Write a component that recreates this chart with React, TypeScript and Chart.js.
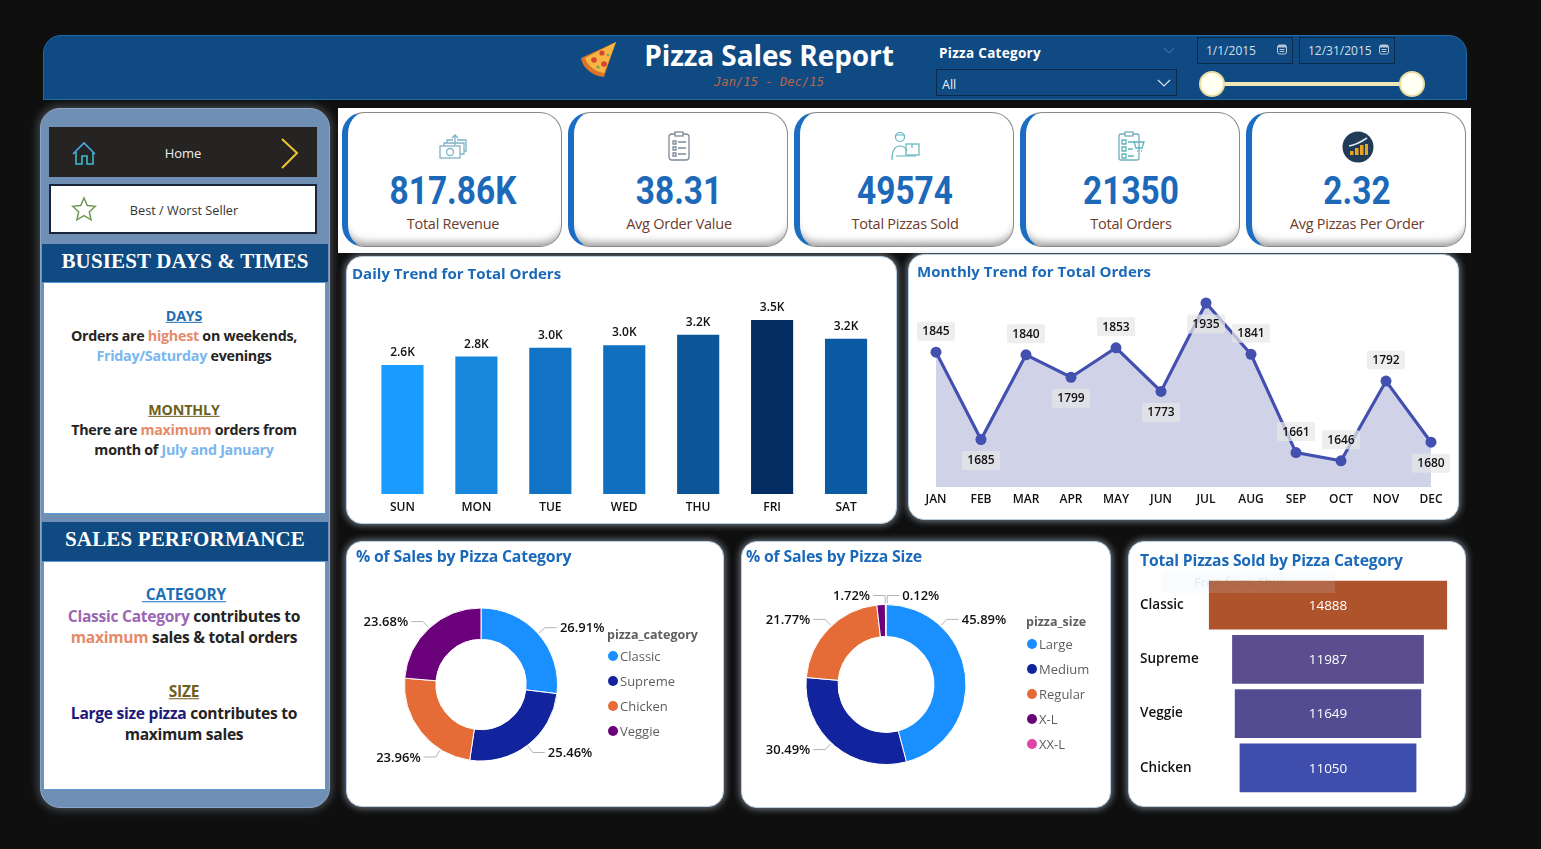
import React, { useEffect, useRef } from "react";
import { Chart, registerables } from "chart.js";

Chart.register(...registerables);

// ---------- data ----------
const days = ["SUN", "MON", "TUE", "WED", "THU", "FRI", "SAT"];
const dailyOrders = [2624, 2794, 2973, 3024, 3239, 3538, 3158];
const dailyColors = ["#1a9bff", "#1787dd", "#1273c4", "#1070bf", "#0c5596", "#042e63", "#0a5ba3"];

const months = ["JAN", "FEB", "MAR", "APR", "MAY", "JUN", "JUL", "AUG", "SEP", "OCT", "NOV", "DEC"];
const monthlyOrders = [1845, 1685, 1840, 1799, 1853, 1773, 1935, 1841, 1661, 1646, 1792, 1680];
const monthlyLabelBelow = [false, true, false, true, false, true, true, false, false, false, false, true];

const categoryNames = ["Classic", "Supreme", "Chicken", "Veggie"];
const categoryShare = [26.91, 25.46, 23.96, 23.68];
const categoryColors = ["#1a8fff", "#12239e", "#e66c37", "#6b007b"];
const categoryLeaderAngles = [48.4, 142.7, 212, 317.4];

const sizeNames = ["Large", "Medium", "Regular", "X-L", "XX-L"];
const sizeShare = [45.89, 30.49, 21.77, 1.72, 0.12];
const sizeColors = ["#1a8fff", "#12239e", "#e66c37", "#6b007b", "#e044a7"];
const sizeLeaderAngles = [43, 223, 317, 359.4, 0.8];

const funnelNames = ["Classic", "Supreme", "Veggie", "Chicken"];
const funnelValues = [14888, 11987, 11649, 11050];
const funnelColors = ["#ae532c", "#5a4e8f", "#534c93", "#3f4dac"];

const kpiValues = ["817.86K", "38.31", "49574", "21350", "2.32"];
const kpiLabels = ["Total Revenue", "Avg Order Value", "Total Pizzas Sold", "Total Orders", "Avg Pizzas Per Order"];

// ---------- style constants ----------
const UI = '"Open Sans","Noto Sans",sans-serif';
const SERIF = '"Liberation Serif",serif';
const NAVY = "#0f4a82";
const BLUE = "#1b69b8";

// ---------- helpers ----------
function T(p: any) {
  const { x, y, c, children, style } = p;
  return (
    <div
      style={{
        position: "absolute",
        left: x,
        top: y,
        transform: c ? "translate(-50%,-50%)" : "translateY(-50%)",
        whiteSpace: "pre",
        fontFamily: UI,
        lineHeight: 1,
        ...style,
      }}
    >
      {children}
    </div>
  );
}

function Box(p: any) {
  const { x, y, w, h, style, children } = p;
  return <div style={{ position: "absolute", left: x, top: y, width: w, height: h, boxSizing: "border-box", ...style }}>{children}</div>;
}

function useChart(make: (c: HTMLCanvasElement) => Chart) {
  const ref = useRef<HTMLCanvasElement>(null);
  useEffect(() => {
    const chart = make(ref.current as HTMLCanvasElement);
    return () => chart.destroy();
  }, []);
  return ref;
}

function Card(p: any) {
  const { x, y, w, h, title, tx, ty, fs, ls, children } = p;
  return (
    <>
      <Box
        x={x}
        y={y}
        w={w}
        h={h}
        style={{
          background: "#fff",
          borderRadius: 16,
          border: "1px solid #b6cde2",
          boxShadow: "0 0 7px 1px rgba(205,222,240,.55)",
        }}
      />
      {children}
      <T x={tx} y={ty} style={{ color: BLUE, fontWeight: 700, fontSize: fs, letterSpacing: ls }}>
        {title}
      </T>
    </>
  );
}

const fmtK = (v: number) => (v / 1000).toFixed(1) + "K";

const barValuePlugin = {
  id: "barValues",
  afterDatasetsDraw(chart: any) {
    const { ctx } = chart;
    const meta = chart.getDatasetMeta(0);
    ctx.save();
    ctx.font = `600 12px ${UI}`;
    ctx.fillStyle = "#111";
    ctx.textAlign = "center";
    ctx.textBaseline = "middle";
    meta.data.forEach((el: any, i: number) => ctx.fillText(fmtK(dailyOrders[i]), el.x, el.y - 12.5));
    ctx.restore();
  },
};

const lineLabelPlugin = {
  id: "lineLabels",
  afterDatasetsDraw(chart: any) {
    const { ctx } = chart;
    const meta = chart.getDatasetMeta(0);
    ctx.save();
    ctx.font = `600 12px ${UI}`;
    ctx.textAlign = "center";
    ctx.textBaseline = "middle";
    meta.data.forEach((el: any, i: number) => {
      const cy = el.y + (monthlyLabelBelow[i] ? 21.5 : -20.5);
      ctx.fillStyle = "rgba(232,232,232,.72)";
      ctx.beginPath();
      ctx.roundRect(el.x - 19, cy - 10, 38, 19, 2);
      ctx.fill();
      ctx.fillStyle = "#111";
      ctx.fillText(String(monthlyOrders[i]), el.x, cy);
    });
    ctx.restore();
  },
};

function leaderPlugin(values: number[], angles: number[]) {
  return {
    id: "leaderLabels",
    afterDatasetsDraw(chart: any) {
      const { ctx } = chart;
      const arc = chart.getDatasetMeta(0).data[0];
      const cx = arc.x;
      const cy = arc.y;
      const r = arc.outerRadius;
      ctx.save();
      ctx.font = `600 13px ${UI}`;
      ctx.textBaseline = "middle";
      values.forEach((v, i) => {
        const a = (angles[i] * Math.PI) / 180;
        const sx = Math.sin(a);
        const cs = Math.cos(a);
        const right = sx >= 0;
        const x0 = cx + (r + 1) * sx;
        const y0 = cy - (r + 1) * cs;
        const x1 = cx + (r + 9) * sx;
        const y1 = cy - (r + 9) * cs;
        const x2 = x1 + (right ? 12 : -12);
        ctx.strokeStyle = "#b5b5b5";
        ctx.lineWidth = 1;
        ctx.beginPath();
        ctx.moveTo(x0, y0);
        ctx.lineTo(x1, y1);
        ctx.lineTo(x2, y1);
        ctx.stroke();
        ctx.fillStyle = "#111";
        ctx.textAlign = right ? "left" : "right";
        ctx.fillText(v.toFixed(2) + "%", x2 + (right ? 3 : -3), y1 + 1);
      });
      ctx.restore();
    },
  };
}

function DailyChart() {
  const ref = useChart(
    (c) =>
      new Chart(c, {
        type: "bar",
        data: {
          labels: days,
          datasets: [{ data: dailyOrders, backgroundColor: dailyColors, barPercentage: 0.57, categoryPercentage: 1 }],
        },
        options: {
          animation: false,
          responsive: false,
          devicePixelRatio: 1,
          layout: { padding: { left: 19.5, right: 14, top: 41.3, bottom: 6 } },
          plugins: { legend: { display: false }, tooltip: { enabled: false } },
          scales: {
            x: {
              grid: { display: false, drawTicks: false },
              border: { display: false },
              afterFit: (s: any) => (s.height = 24),
              ticks: { color: "#111", font: { family: UI, size: 12, weight: "600" }, padding: 6, maxRotation: 0 },
            },
            y: { display: false, min: 0, max: 4000 },
          },
        },
        plugins: [barValuePlugin],
      } as any)
  );
  return <canvas ref={ref} width={551} height={268} style={{ position: "absolute", left: 346, top: 256 }} />;
}

function MonthlyChart() {
  const ref = useChart(
    (c) =>
      new Chart(c, {
        type: "line",
        data: {
          labels: months,
          datasets: [
            {
              data: monthlyOrders,
              borderColor: "#4350af",
              borderWidth: 3.2,
              tension: 0,
              pointRadius: 5.5,
              pointBackgroundColor: "#4350af",
              pointBorderWidth: 0,
              fill: "start",
              backgroundColor: "rgba(67,80,165,.25)",
            },
          ],
        },
        options: {
          animation: false,
          responsive: false,
          devicePixelRatio: 1,
          layout: { padding: { left: 4.4, right: 4.4, top: 13.5, bottom: 9 } },
          plugins: { legend: { display: false }, tooltip: { enabled: false } },
          scales: {
            x: {
              offset: true,
              grid: { display: false, drawTicks: false },
              border: { display: false },
              afterFit: (s: any) => (s.height = 24),
              ticks: { color: "#111", font: { family: UI, size: 12, weight: "600" }, padding: 5, maxRotation: 0, autoSkip: false },
            },
            y: { display: false, min: 1598, max: 2000 },
          },
        },
        plugins: [lineLabelPlugin],
      } as any)
  );
  return <canvas ref={ref} width={551} height={266} style={{ position: "absolute", left: 908, top: 254 }} />;
}

function Donut(p: any) {
  const { names, values, colors, angles, x, y, w, h, pad, cutout } = p;
  const ref = useChart(
    (c) =>
      new Chart(c, {
        type: "doughnut",
        data: { labels: names, datasets: [{ data: values, backgroundColor: colors, borderWidth: 1, borderColor: "#fff" }] },
        options: {
          animation: false,
          responsive: false,
          devicePixelRatio: 1,
          cutout,
          layout: { padding: pad },
          plugins: { legend: { display: false }, tooltip: { enabled: false } },
        },
        plugins: [leaderPlugin(values, angles)],
      } as any)
  );
  return <canvas ref={ref} width={w} height={h} style={{ position: "absolute", left: x, top: y }} />;
}

function FunnelChart() {
  const half = (v: number) => [-v / 2, v / 2];
  const ref = useChart(
    (c) =>
      new Chart(c, {
        type: "bar",
        data: {
          labels: funnelNames,
          datasets: [{ data: funnelValues.map(half), backgroundColor: funnelColors, barPercentage: 0.9, categoryPercentage: 1 }],
        },
        options: {
          indexAxis: "y",
          animation: false,
          responsive: false,
          devicePixelRatio: 1,
          layout: { padding: { left: 12, right: 18, top: 37, bottom: 12 } },
          plugins: { legend: { display: false }, tooltip: { enabled: false } },
          scales: {
            x: { display: false, min: -7500, max: 7500 },
            y: {
              grid: { display: false, drawTicks: false },
              border: { display: false },
              afterFit: (s: any) => (s.width = 68),
              ticks: { color: "#111", crossAlign: "far", font: { family: UI, size: 13.5, weight: "600" } },
            },
          },
        },
        plugins: [
          {
            id: "funnelValues",
            afterDatasetsDraw(chart: any) {
              const { ctx } = chart;
              ctx.save();
              ctx.font = `500 13.5px ${UI}`;
              ctx.fillStyle = "#fff";
              ctx.textAlign = "center";
              ctx.textBaseline = "middle";
              chart.getDatasetMeta(0).data.forEach((el: any, i: number) => {
                ctx.fillText(String(funnelValues[i]), chart.scales.x.getPixelForValue(0), el.y + 1);
              });
              ctx.restore();
            },
          },
        ],
      } as any)
  );
  return <canvas ref={ref} width={338} height={266} style={{ position: "absolute", left: 1128, top: 541 }} />;
}

function Legend(p: any) {
  const { title, names, colors, x, ty, y0 } = p;
  return (
    <>
      <T x={x} y={ty} style={{ color: "#605e5c", fontWeight: 700, fontSize: 12.5 }}>
        {title}
      </T>
      {names.map((n: string, i: number) => (
        <React.Fragment key={n}>
          <div
            style={{
              position: "absolute",
              left: x + 1,
              top: y0 + i * 25 - 5,
              width: 10,
              height: 10,
              borderRadius: 5,
              background: colors[i],
            }}
          />
          <T x={x + 13} y={y0 + i * 25} style={{ color: "#605e5c", fontSize: 13 }}>
            {n}
          </T>
        </React.Fragment>
      ))}
    </>
  );
}

function Calendar({ x }: { x: number }) {
  return (
    <svg style={{ position: "absolute", left: x, top: 44 }} width="10" height="11" viewBox="0 0 10 11">
      <rect x="0.5" y="1" width="9" height="9" rx="2" fill="none" stroke="#b8c8d8" />
      <rect x="1" y="1" width="8" height="2.5" fill="#b8c8d8" />
      <path d="M2.5 5.5h5M2.5 7.5h5" stroke="#b8c8d8" strokeWidth="1" />
    </svg>
  );
}

function KpiIcon({ i, x }: { i: number; x: number }) {
  const common: any = { position: "absolute", left: x - 15, top: 131 };
  if (i === 0)
    return (
      <svg style={common} width="30" height="30" viewBox="0 0 30 30" fill="none" stroke="#7fb2c6" strokeWidth="1.3">
        <rect x="2" y="15" width="20" height="12" />
        <circle cx="12" cy="21" r="3.5" />
        <path d="M6 15v-3h20v11h-4M9 12V9h6M19 9h9v11h-2" />
        <path d="M17 14V5M14 7l3-3 3 3" />
      </svg>
    );
  if (i === 1)
    return (
      <svg style={common} width="30" height="30" viewBox="0 0 30 30" fill="none" stroke="#7d8b99" strokeWidth="1.3">
        <rect x="5" y="3" width="20" height="26" rx="3" />
        <rect x="11" y="1" width="8" height="4" fill="#fff" />
        <path d="M9 10h3v3H9zM9 16h3v3H9zM9 22h3v3H9zM14 11h8M14 17h8M14 23h8" />
      </svg>
    );
  if (i === 2)
    return (
      <svg style={{ ...common, left: x - 16, top: 130 }} width="32" height="32" viewBox="0 0 32 32" fill="none" stroke="#5fb4bd" strokeWidth="1.2">
        <circle cx="11" cy="7" r="4.5" />
        <path d="M6 5h10M3 30c0-10 3-14 8-14s6 3 7 5" />
        <rect x="17" y="14" width="13" height="11" />
        <path d="M23 14v4M7 26h20" />
      </svg>
    );
  if (i === 3)
    return (
      <svg style={common} width="30" height="30" viewBox="0 0 30 30" fill="none" stroke="#72aebb" strokeWidth="1.3">
        <rect x="3" y="3" width="20" height="26" rx="2" />
        <rect x="9" y="1" width="8" height="4" fill="#fff" />
        <path d="M6 9h4v4H6zM6 16h4v4H6zM6 23h4v4H6zM12 11h7M12 18h5M12 25h6" stroke="#5fb4bd" />
        <path d="M18 11h10l-2 6h-6zM21 20h1M25 20h1" stroke="#5fb4bd" />
      </svg>
    );
  return (
    <svg style={common} width="32" height="32" viewBox="0 0 32 32">
      <circle cx="16" cy="16" r="15.5" fill="#1f3b57" />
      <path d="M7 15c6-1 12-4 18-8" stroke="#dfe6ec" strokeWidth="1.6" fill="none" />
      <rect x="8" y="20" width="3.5" height="4" fill="#e9a31f" />
      <rect x="13" y="17" width="3.5" height="7" fill="#e9a31f" />
      <rect x="18" y="14" width="3.5" height="10" fill="#e9a31f" />
      <rect x="23" y="13" width="3" height="11" fill="#e9a31f" />
    </svg>
  );
}

function Sidebar() {
  const body = { color: "#252423", fontWeight: 700, fontSize: 14.3, letterSpacing: -0.28 };
  const body2 = { ...body, fontSize: 15.6, letterSpacing: -0.28 };
  const head = { fontWeight: 700, fontSize: 14.3, textDecoration: "underline", letterSpacing: -0.2 };
  const head2 = { ...head, fontSize: 15.5 };
  const heading = { color: "#fff", fontFamily: SERIF, fontWeight: 700, fontSize: 21, letterSpacing: 0.15 };
  const orange = "#e58a6a";
  const sky = "#7ab6ef";
  return (
    <>
      <Box
        x={40}
        y={108}
        w={290}
        h={700}
        style={{ background: "#6f8fb5", borderRadius: 20, border: "1px solid #8ba6c6", boxShadow: "0 0 9px 2px rgba(190,205,225,.32)" }}
      />
      <Box x={49} y={127} w={268} h={50} style={{ background: "#252423" }} />
      <svg style={{ position: "absolute", left: 71, top: 141 }} width="26" height="26" viewBox="0 0 26 26" fill="none" strokeWidth="1.6" stroke="#3fb9c9">
        <path d="M2 13L13 2l11 11" stroke="#4aa9e6" />
        <path d="M5 11v12h6v-8h5v8h6V11" />
      </svg>
      <T c x={183} y={153} style={{ color: "#eeeeee", fontSize: 13 }}>
        Home
      </T>
      <svg style={{ position: "absolute", left: 278, top: 136 }} width="24" height="34" viewBox="0 0 24 34" fill="none">
        <path d="M4 3l15 14L4 32" stroke="#f2c52e" strokeWidth="2" />
      </svg>
      <Box x={49} y={184} w={268} h={50} style={{ background: "#fff", border: "2px solid #1a2438" }} />
      <svg style={{ position: "absolute", left: 71, top: 196 }} width="26" height="26" viewBox="0 0 26 26" fill="none">
        <path d="M13 2l3.3 7.6 8 .7-6 5.4 1.8 8.1L13 19.6 5.9 23.8l1.8-8.1-6-5.4 8-.7z" stroke="#6f9a55" strokeWidth="1.5" />
      </svg>
      <T c x={184} y={210} style={{ color: "#333", fontSize: 12.7 }}>
        Best / Worst Seller
      </T>

      <Box x={42} y={244} w={286} h={38} style={{ background: NAVY }} />
      <T c x={185} y={261} style={heading}>
        BUSIEST DAYS &amp; TIMES
      </T>
      <Box x={43} y={282} w={283} h={232} style={{ background: "#fff", border: "1.5px solid #5b9bd5" }} />
      <T c x={184} y={316} style={{ ...head, color: "#1f6fb5" }}>DAYS</T>
      <T c x={184} y={336} style={body}>
        Orders are <span style={{ color: orange }}>highest</span> on weekends,
      </T>
      <T c x={184} y={356} style={body}>
        <span style={{ color: sky }}>Friday/Saturday</span> evenings
      </T>
      <T c x={184} y={410} style={{ ...head, color: "#6e5f1a" }}>MONTHLY</T>
      <T c x={184} y={430} style={body}>
        There are <span style={{ color: orange }}>maximum</span> orders from
      </T>
      <T c x={184} y={450} style={body}>
        month of <span style={{ color: sky }}>July and January</span>
      </T>

      <Box x={42} y={522} w={286} h={39} style={{ background: NAVY }} />
      <T c x={185} y={539} style={heading}>
        SALES PERFORMANCE
      </T>
      <Box x={43} y={561} w={283} h={229} style={{ background: "#fff", border: "1.5px solid #5b9bd5" }} />
      <T c x={184} y={595} style={{ ...head2, color: "#1f6fb5" }}>{" CATEGORY"}</T>
      <T c x={184} y={617} style={body2}>
        <span style={{ color: "#9b67b5" }}>Classic Category</span> contributes to
      </T>
      <T c x={184} y={638} style={body2}>
        <span style={{ color: orange }}>maximum</span> sales &amp; total orders
      </T>
      <T c x={184} y={692} style={{ ...head2, color: "#6e5f1a" }}>SIZE</T>
      <T c x={184} y={714} style={body2}>
        <span style={{ color: "#1d1a7a" }}>Large size pizza</span> contributes to
      </T>
      <T c x={184} y={735} style={body2}>maximum sales</T>
    </>
  );
}

function Header() {
  return (
    <>
      <Box x={43} y={35} w={1424} h={65} style={{ background: NAVY, borderRadius: "18px 18px 0 0", border: "1px solid #1f6aa8" }} />
      <svg style={{ position: "absolute", left: 580, top: 41 }} width="37" height="37" viewBox="0 0 37 37">
        <path d="M36 1L1 17c1 9 11 18 23 19z" fill="#d9762a" />
        <path d="M36 1L5 17c2 7 10 14 19 15z" fill="#f6b544" />
        <circle cx="22" cy="12" r="2.6" fill="#d8442f" />
        <circle cx="14" cy="19" r="2.8" fill="#d8442f" />
        <circle cx="24" cy="23" r="2.8" fill="#d8442f" />
        <circle cx="18" cy="26" r="1.5" fill="#6aa84f" />
        <circle cx="28" cy="14" r="1.3" fill="#6aa84f" />
      </svg>
      <T c x={769} y={55} style={{ color: "#fff", fontWeight: 700, fontSize: 28, letterSpacing: -0.1 }}>
        Pizza Sales Report
      </T>
      <T c x={769} y={82} style={{ color: "#b8674c", fontFamily: '"DejaVu Sans Mono",monospace', fontStyle: "italic", fontSize: 12.2 }}>
        Jan/15 - Dec/15
      </T>
      <T x={939} y={54} style={{ color: "#fff", fontWeight: 700, fontSize: 13.5, letterSpacing: 0.3 }}>
        Pizza Category
      </T>
      <svg style={{ position: "absolute", left: 1163, top: 47 }} width="12" height="7" viewBox="0 0 12 7" fill="none">
        <path d="M1 1l5 5 5-5" stroke="#356d9f" strokeWidth="1.2" />
      </svg>
      <Box x={936} y={69} w={241} h={27} style={{ border: "1px solid #0b2948" }} />
      <T x={942} y={85} style={{ color: "#eef3f8", fontSize: 12.5 }}>
        All
      </T>
      <svg style={{ position: "absolute", left: 1157, top: 79 }} width="14" height="9" viewBox="0 0 14 9" fill="none">
        <path d="M1 1l6 6 6-6" stroke="#d8e4ef" strokeWidth="1.2" />
      </svg>
      <Box x={1197} y={37} w={96} h={27} style={{ border: "1px solid #0b2948" }} />
      <Box x={1299} y={37} w={96} h={27} style={{ border: "1px solid #0b2948" }} />
      <T x={1206} y={51} style={{ color: "#d4e0ea", fontSize: 12 }}>1/1/2015</T>
      <T x={1308} y={51} style={{ color: "#d4e0ea", fontSize: 12 }}>12/31/2015</T>
      <Calendar x={1277} />
      <Calendar x={1379} />
      <Box x={1212} y={82} w={200} h={4} style={{ background: "#efe8b8" }} />
      {[1212, 1412].map((x) => (
        <Box key={x} x={x - 13} y={71} w={26} h={26} style={{ background: "#fffff2", border: "2px solid #e8dca0", borderRadius: 13 }} />
      ))}
    </>
  );
}

function Kpis() {
  return (
    <>
      <Box x={338} y={108} w={1133} h={145} style={{ background: "#fff" }} />
      {kpiValues.map((v, i) => {
        const left = 342 + i * 226;
        const cx = left + 111;
        return (
          <React.Fragment key={v}>
            <Box
              x={left}
              y={112}
              w={220}
              h={135}
              style={{
                background: "#fff",
                borderRadius: 22,
                border: "1px solid #8a8a8a",
                borderLeft: "6px solid #1b6dc1",
                boxShadow: "inset 0 -10px 9px -7px rgba(0,0,0,.42)",
              }}
            />
            <KpiIcon i={i} x={cx} />
            <T
              x={cx}
              y={191}
              style={{
                fontFamily: "Roboto,sans-serif",
                fontWeight: 700,
                fontSize: 38,
                color: BLUE,
                transform: "translate(-50%,-50%) scaleX(.88)",
              }}
            >
              {v}
            </T>
            <T c x={cx} y={224} style={{ color: "#6e3b2b", fontSize: 14.5, letterSpacing: -0.25 }}>
              {kpiLabels[i]}
            </T>
          </React.Fragment>
        );
      })}
    </>
  );
}

export default function App() {
  return (
    <div style={{ position: "fixed", left: 0, top: 0, width: 1541, height: 849, background: "#0f0f0f", overflow: "hidden" }}>
      <Header />
      <Sidebar />
      <Kpis />

      <Card x={346} y={256} w={551} h={268} title="Daily Trend for Total Orders" tx={352} ty={272.5} fs={15} ls={0.02}>
        <DailyChart />
      </Card>
      <Card x={908} y={254} w={551} h={266} title="Monthly Trend for Total Orders" tx={917} ty={270.5} fs={15} ls={0.02}>
        <MonthlyChart />
      </Card>

      <Card x={346} y={541} w={378} h={266} title="% of Sales by Pizza Category" tx={356} ty={556.5} fs={15.8} ls={-0.18}>
        <Donut
          names={categoryNames}
          values={categoryShare}
          colors={categoryColors}
          angles={categoryLeaderAngles}
          x={346}
          y={541}
          w={378}
          h={266}
          cutout="59%"
          pad={{ left: 58, right: 166, top: 66.5, bottom: 45.5 }}
        />
        <Legend title="pizza_category" names={categoryNames} colors={categoryColors} x={607} ty={635} y0={656} />
      </Card>
      <Card x={741} y={541} w={370} h={267} title="% of Sales by Pizza Size" tx={746} ty={556.5} fs={15.8} ls={-0.18}>
        <Donut
          names={sizeNames}
          values={sizeShare}
          colors={sizeColors}
          angles={sizeLeaderAngles}
          x={741}
          y={541}
          w={370}
          h={267}
          cutout="60%"
          pad={{ left: 64.5, right: 144.5, top: 63, bottom: 43 }}
        />
        <Legend title="pizza_size" names={sizeNames} colors={sizeColors} x={1026} ty={622} y0={644} />
      </Card>
      <Card x={1128} y={541} w={338} h={266} title="Total Pizzas Sold by Pizza Category" tx={1140} ty={560.5} fs={15.7} ls={-0.18}>
        <FunnelChart />
        <Box x={1162} y={572} w={173} h={21} style={{ background: "rgba(215,235,255,.14)" }} />
        <T x={1194} y={582} style={{ color: "rgba(90,90,90,.13)", fontSize: 13 }}>
          Free-form Ship
        </T>
      </Card>
    </div>
  );
}
